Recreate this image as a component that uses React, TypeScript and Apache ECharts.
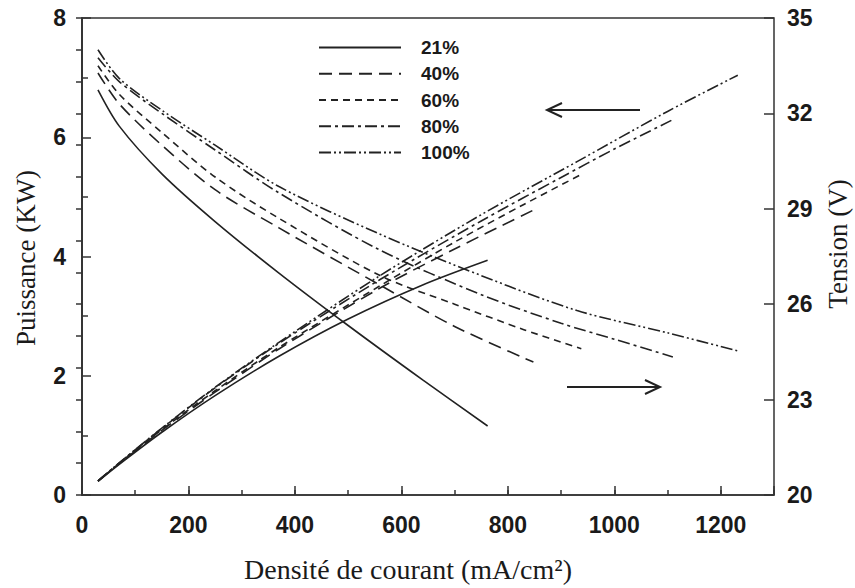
import React, { useEffect, useRef } from 'react';
import * as echarts from 'echarts';

// Legend labels (oxygen concentration)
const labels = ['21%', '40%', '60%', '80%', '100%'];

// Current density (mA/cm²) sample points for each curve
const current21 = [30, 70, 150, 250, 370, 500, 640, 762];
const current40 = [30, 70, 150, 250, 370, 560, 700, 848];
const current60 = [30, 70, 150, 250, 370, 560, 700, 830, 938];
const current80 = [30, 70, 150, 250, 370, 560, 750, 900, 1000, 1110];
const current100 = [30, 70, 150, 250, 370, 560, 750, 930, 1100, 1232];

// Tension (V) – falling curves, right axis
const tension21 = [32.74, 31.6, 30.1, 28.6, 26.98, 25.33, 23.62, 22.17];
const tension40 = [33.27, 32.3, 31.0, 29.6, 28.4, 26.6, 25.3, 24.18];
const tension60 = [33.5, 32.6, 31.4, 30.0, 28.7, 26.9, 26.0, 25.2, 24.6];
const tension80 = [33.75, 33.0, 32.0, 30.85, 29.5, 27.7, 26.3, 25.4, 24.9, 24.34];
const tension100 = [34.0, 33.1, 32.1, 31.0, 29.7, 28.2, 26.9, 25.8, 25.1, 24.53];

// Puissance (kW) – rising curves, left axis
const puissance21 = [0.229, 0.515, 1.052, 1.666, 2.326, 2.951, 3.522, 3.936];
const puissance40 = [0.233, 0.527, 1.083, 1.724, 2.448, 3.471, 4.126, 4.778];
const puissance60 = [0.234, 0.532, 1.097, 1.748, 2.474, 3.51, 4.241, 4.873, 5.376];
const puissance80 = [0.236, 0.538, 1.118, 1.797, 2.543, 3.614, 4.596, 5.326, 5.802, 6.295];
const puissance100 = [0.238, 0.54, 1.122, 1.806, 2.56, 3.68, 4.701, 5.591, 6.433, 7.041];

// Axis ticks
const xTicks = [0, 200, 400, 600, 800, 1000, 1200];
const leftTicks = [0, 2, 4, 6, 8];
const rightTicks = [20, 23, 26, 29, 32, 35];

const currents = [current21, current40, current60, current80, current100];
const tensions = [tension21, tension40, tension60, tension80, tension100];
const puissances = [puissance21, puissance40, puissance60, puissance80, puissance100];
const dashTypes: any[] = ['solid', [13, 7], [7, 5], [12, 4, 3, 4], [12, 3, 2, 3, 2, 3]];

const LINE = '#222';
const SANS = '"Liberation Sans", Arial, Helvetica, sans-serif';
const SERIF = '"Liberation Serif", "Times New Roman", serif';

export default function App() {
  const ref = useRef<HTMLDivElement>(null);
  useEffect(() => {
    if (!ref.current) return;
    const chart = echarts.init(ref.current, undefined, { renderer: 'svg' });

    const series: any[] = [];
    labels.forEach((name, i) => {
      const lineStyle = { color: LINE, width: 1.6, type: dashTypes[i] };
      series.push({
        name,
        type: 'line',
        xAxisIndex: 0,
        yAxisIndex: 0,
        smooth: 0.3,
        symbol: 'none',
        lineStyle,
        itemStyle: { color: LINE },
        data: currents[i].map((c, k) => [c, puissances[i][k]]),
      });
      series.push({
        name,
        type: 'line',
        xAxisIndex: 0,
        yAxisIndex: 1,
        smooth: 0.3,
        symbol: 'none',
        lineStyle,
        itemStyle: { color: LINE },
        data: currents[i].map((c, k) => [c, tensions[i][k]]),
      });
    });

    const tickLabel = {
      fontFamily: SANS,
      fontWeight: 'bold' as const,
      fontSize: 23,
      color: '#1a1a1a',
    };

    chart.setOption({
      animation: false,
      backgroundColor: '#fff',
      grid: {
        left: 82,
        right: 81,
        top: 18,
        bottom: 93,
        show: true,
        borderColor: '#333',
        borderWidth: 1.5,
        containLabel: false,
      },
      legend: {
        data: labels,
        orient: 'vertical',
        left: 318,
        top: 38,
        padding: 0,
        itemWidth: 82,
        itemHeight: 18,
        itemGap: 7.25,
        itemStyle: { opacity: 0, color: 'transparent', borderWidth: 0 },
        textStyle: {
          fontFamily: SANS,
          fontWeight: 'bold',
          fontSize: 19,
          lineHeight: 18,
          color: '#1a1a1a',
          padding: [0, 0, 0, 15],
        },
      },
      xAxis: [
        {
          type: 'value',
          min: 0,
          max: 1300,
          interval: 200,
          axisLine: { show: true, lineStyle: { color: '#333', width: 1.5 } },
          axisTick: { show: true, inside: true, length: 9, lineStyle: { color: '#333', width: 1.5 } },
          axisLabel: {
            ...tickLabel,
            margin: 18,
            formatter: (v: number) => (xTicks.includes(v) ? String(v) : ''),
          },
          splitLine: { show: false },
        },
        {
          type: 'value',
          min: 0,
          max: 1300,
          interval: 100,
          position: 'bottom',
          axisLine: { show: false },
          axisTick: { show: true, inside: true, length: 5, lineStyle: { color: '#333', width: 1.5 } },
          axisLabel: { show: false },
          splitLine: { show: false },
        },
      ],
      yAxis: [
        {
          type: 'value',
          min: 0,
          max: 8,
          interval: 2,
          position: 'left',
          axisLine: { show: true, lineStyle: { color: '#333', width: 1.5 } },
          axisTick: { show: true, inside: true, length: 9, lineStyle: { color: '#333', width: 1.5 } },
          minorTick: { show: true, splitNumber: 2, length: 6, lineStyle: { color: '#333', width: 1.5 } },
          axisLabel: {
            ...tickLabel,
            margin: 16,
            formatter: (v: number) => (leftTicks.includes(v) ? String(v) : ''),
          },
          splitLine: { show: false },
          minorSplitLine: { show: false },
        },
        {
          type: 'value',
          min: 20,
          max: 35,
          interval: 1,
          position: 'right',
          axisLine: { show: true, lineStyle: { color: '#333', width: 1.5 } },
          axisTick: { show: true, inside: true, length: 6, lineStyle: { color: '#333', width: 1.5 } },
          axisLabel: {
            ...tickLabel,
            margin: 13,
            formatter: (v: number) => (rightTicks.includes(v) ? String(v) : ''),
          },
          splitLine: { show: false },
        },
        {
          type: 'value',
          min: 0,
          max: 15,
          interval: 3,
          position: 'right',
          axisLine: { show: false },
          axisTick: { show: true, inside: true, length: 10, lineStyle: { color: '#333', width: 1.5 } },
          axisLabel: { show: false },
          splitLine: { show: false },
        },
      ],
      graphic: [
        {
          type: 'text',
          x: 408,
          y: 569,
          style: {
            text: 'Densité de courant (mA/cm²)',
            textAlign: 'center',
            textVerticalAlign: 'middle',
            font: `28px ${SERIF}`,
            fill: '#1a1a1a',
          },
        },
        {
          type: 'text',
          x: 26,
          y: 258,
          rotation: Math.PI / 2,
          style: {
            text: 'Puissance (KW)',
            textAlign: 'center',
            textVerticalAlign: 'middle',
            font: `27px ${SERIF}`,
            fill: '#1a1a1a',
          },
        },
        {
          type: 'text',
          x: 838,
          y: 244,
          rotation: Math.PI / 2,
          style: {
            text: 'Tension (V)',
            textAlign: 'center',
            textVerticalAlign: 'middle',
            font: `27px ${SERIF}`,
            fill: '#1a1a1a',
          },
        },
        {
          type: 'line',
          shape: { x1: 547, y1: 110, x2: 640, y2: 110 },
          style: { stroke: '#222', lineWidth: 2 },
        },
        {
          type: 'polyline',
          shape: { points: [[562, 103], [547, 110], [562, 117]] },
          style: { stroke: '#222', lineWidth: 2, fill: 'none' },
        },
        {
          type: 'line',
          shape: { x1: 567, y1: 387, x2: 660, y2: 387 },
          style: { stroke: '#222', lineWidth: 2 },
        },
        {
          type: 'polyline',
          shape: { points: [[645, 380], [660, 387], [645, 394]] },
          style: { stroke: '#222', lineWidth: 2, fill: 'none' },
        },
      ],
      series,
    });

    return () => chart.dispose();
  }, []);

  return <div ref={ref} style={{ width: 855, height: 588, position: 'absolute', left: 0, top: 0 }} />;
}
